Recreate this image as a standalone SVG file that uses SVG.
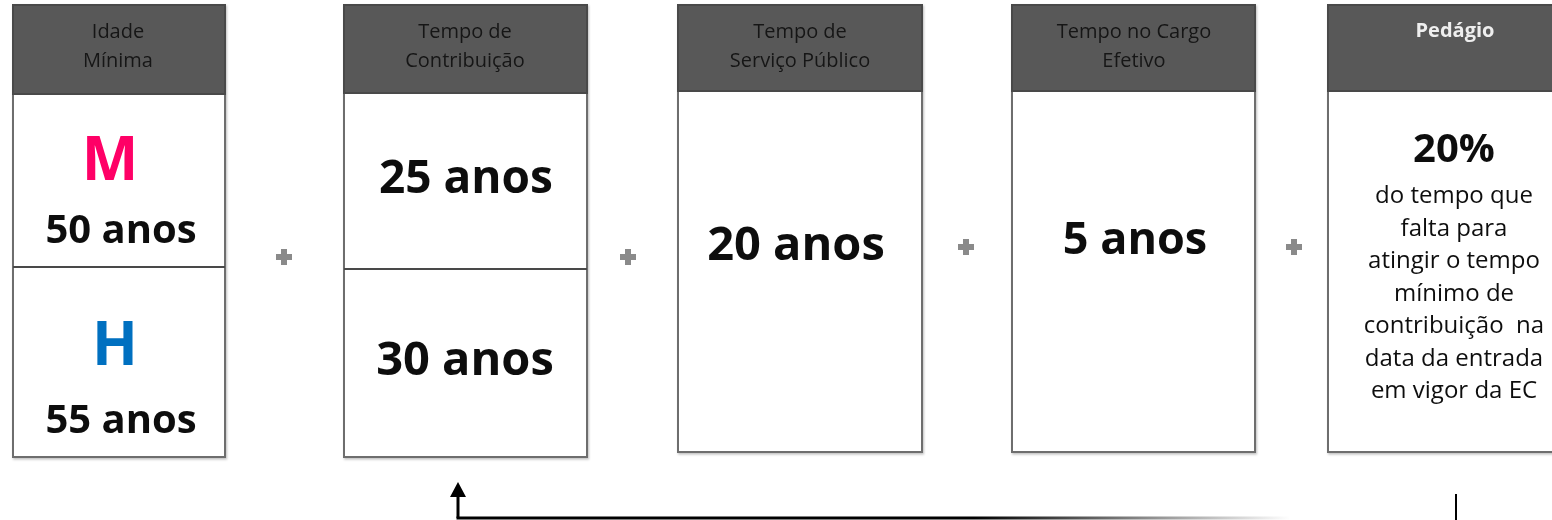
<svg xmlns="http://www.w3.org/2000/svg" width="1552" height="520" viewBox="0 0 1552 520">
  <style>
    .body { fill: #ffffff; stroke: #6e6e6e; stroke-width: 2; }
    .head { fill: #595959; stroke: #4a4a4a; stroke-width: 2; }
    .div { stroke: #4a4a4a; stroke-width: 2; }
    .ht { font-family: "Open Sans", "Liberation Sans", sans-serif; font-size: 20px; fill: #161616; text-anchor: middle; }
    .big { font-family: "Open Sans", "Liberation Sans", sans-serif; font-weight: 700; fill: #111111; text-anchor: middle; }
    .txt { font-family: "Open Sans", "Liberation Sans", sans-serif; font-size: 24px; fill: #111111; text-anchor: middle; }
    .plus { fill: #8a8a8a; }
  </style>
  <defs>
    <filter id="sh" x="-5%" y="-5%" width="115%" height="115%">
      <feDropShadow dx="1" dy="1.5" stdDeviation="1" flood-color="#000" flood-opacity="0.25"/>
    </filter>
    <filter id="blur"><feGaussianBlur stdDeviation="0.7"/></filter>
    <linearGradient id="fade" gradientUnits="userSpaceOnUse" x1="458" y1="0" x2="1290" y2="0">
      <stop offset="0" stop-color="#000"/>
      <stop offset="0.62" stop-color="#000"/>
      <stop offset="1" stop-color="#fff"/>
    </linearGradient>
  </defs>

  <g id="idade-minima" filter="url(#sh)">
    <rect class="body" x="13" y="5" width="212" height="452"/>
    <rect class="head" x="13" y="5" width="212" height="89"/>
    <line class="div" x1="13" y1="267" x2="225" y2="267"/>
    <text class="ht" x="118" y="38">Idade</text>
    <text class="ht" x="118" y="67">Mínima</text>
    <text class="big" x="110" y="180" font-size="60" style="fill:#ff0066">M</text>
    <text class="big" x="121" y="243" font-size="40">50 anos</text>
    <text class="big" x="115" y="365" font-size="60" style="fill:#0070c0">H</text>
    <text class="big" x="121" y="433" font-size="40">55 anos</text>
  </g>

  <g id="tempo-contribuicao" filter="url(#sh)">
    <rect class="body" x="344" y="5" width="243" height="452"/>
    <rect class="head" x="344" y="5" width="243" height="88"/>
    <line class="div" x1="344" y1="269" x2="587" y2="269"/>
    <text class="ht" x="465" y="38">Tempo de</text>
    <text class="ht" x="465" y="67">Contribuição</text>
    <text class="big" x="466" y="193" font-size="46">25 anos</text>
    <text class="big" x="465" y="375" font-size="47">30 anos</text>
  </g>

  <g id="tempo-servico-publico" filter="url(#sh)">
    <rect class="body" x="678" y="5" width="244" height="447"/>
    <rect class="head" x="678" y="5" width="244" height="86"/>
    <text class="ht" x="800" y="38">Tempo de</text>
    <text class="ht" x="800" y="67">Serviço Público</text>
    <text class="big" x="796" y="260" font-size="47">20 anos</text>
  </g>

  <g id="tempo-cargo-efetivo" filter="url(#sh)">
    <rect class="body" x="1012" y="5" width="243" height="447"/>
    <rect class="head" x="1012" y="5" width="243" height="86"/>
    <text class="ht" x="1134" y="38">Tempo no Cargo</text>
    <text class="ht" x="1134" y="67">Efetivo</text>
    <text class="big" x="1135" y="254" font-size="45">5 anos</text>
  </g>

  <g id="pedagio" filter="url(#sh)">
    <rect class="body" x="1328" y="5" width="240" height="447"/>
    <rect class="head" x="1328" y="5" width="240" height="86"/>
    <text class="ht" x="1455" y="37" style="fill:#eeeeee;font-weight:700">Pedágio</text>
    <text class="big" x="1454" y="162" font-size="40">20%</text>
    <text class="txt" x="1454" y="203">do tempo que</text>
    <text class="txt" x="1454" y="236">falta para</text>
    <text class="txt" x="1454" y="268">atingir o tempo</text>
    <text class="txt" x="1454" y="301">mínimo de</text>
    <text class="txt" x="1454" y="333" xml:space="preserve">contribuição  na</text>
    <text class="txt" x="1454" y="366">data da entrada</text>
    <text class="txt" x="1454" y="398">em vigor da EC</text>
  </g>

  <g id="plus-signs" class="plus" filter="url(#blur)">
    <path d="M281,249 h6 v5 h5 v6 h-5 v5 h-6 v-5 h-5 v-6 h5 z"/>
    <path d="M625,249 h6 v5 h5 v6 h-5 v5 h-6 v-5 h-5 v-6 h5 z"/>
    <path d="M963,239 h6 v5 h5 v6 h-5 v5 h-6 v-5 h-5 v-6 h5 z"/>
    <path d="M1291,239 h6 v5 h5 v6 h-5 v5 h-6 v-5 h-5 v-6 h5 z"/>
  </g>

  <g id="connectors">
    <rect x="456.5" y="516.5" width="833" height="3" fill="url(#fade)"/>
    <path d="M458,518 V496" stroke="#000" stroke-width="3" fill="none"/>
    <polygon points="458,482 466,497 450,497" fill="#000"/>
    <line x1="1456" y1="494" x2="1456" y2="520" stroke="#000" stroke-width="2"/>
  </g>
</svg>
